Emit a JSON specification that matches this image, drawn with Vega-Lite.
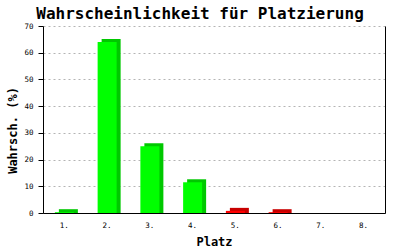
{
  "$schema": "https://vega.github.io/schema/vega-lite/v6.json",
  "width": 342,
  "height": 187,
  "autosize": "none",
  "padding": {"left": 43, "top": 26, "right": 15, "bottom": 37},
  "background": "white",
  "title": {"text": "Wahrscheinlichkeit für Platzierung", "font": "DejaVu Sans Mono", "fontSize": 16, "fontWeight": "bold", "color": "black", "anchor": "middle", "frame": "group", "dx": -14, "offset": 8, "dy": 8},
  "config": {"view": {"stroke": null}},
  "data": {"values": [
    {"platz": "1.", "wert": 0.3, "gruppe": "a"},
    {"platz": "2.", "wert": 64, "gruppe": "a"},
    {"platz": "3.", "wert": 25, "gruppe": "a"},
    {"platz": "4.", "wert": 11.5, "gruppe": "a"},
    {"platz": "5.", "wert": 0.8, "gruppe": "b"},
    {"platz": "6.", "wert": 0.3, "gruppe": "b"},
    {"platz": "7.", "wert": 0, "gruppe": "b"},
    {"platz": "8.", "wert": 0, "gruppe": "b"}
  ]},
  "encoding": {
    "x": {"field": "platz", "type": "ordinal", "sort": null,
      "scale": {"paddingInner": 0, "paddingOuter": 0},
      "axis": {"labelAngle": 0, "ticks": false, "domainColor": "black", "labelPadding": 8, "labelFont": "DejaVu Sans Mono", "labelFontSize": 7.5, "labelColor": "black", "title": "Platz", "titleFont": "DejaVu Sans Mono", "titleFontSize": 12, "titleFontWeight": "bold", "titleColor": "black", "titlePadding": 8}}
  },
  "layer": [
    {
      "transform": [{"filter": "datum.wert > 0"}],
      "mark": {"type": "bar", "width": 19, "xOffset": 4, "x2Offset": 4, "yOffset": -3, "y2Offset": 0},
      "encoding": {
        "y": {"field": "wert", "type": "quantitative", "scale": {"domain": [0, 70]},
          "axis": {"values": [0, 10, 20, 30, 40, 50, 60, 70], "grid": true, "gridColor": "#b4b4b4", "gridDash": [2, 3], "domainColor": "black", "tickColor": "black", "tickSize": 5, "labelFont": "DejaVu Sans Mono", "labelFontSize": 7.5, "labelColor": "black", "labelPadding": 5, "title": "Wahrsch. (%)", "titleFont": "DejaVu Sans Mono", "titleFontSize": 12, "titleFontWeight": "bold", "titleColor": "black", "titleY": 104}},
        "y2": {"datum": 0},
        "color": {"field": "gruppe", "type": "nominal", "scale": {"domain": ["a", "b"], "range": ["#00c800", "#c80000"]}, "legend": null}
      }
    },
    {
      "mark": {"type": "bar", "width": 19},
      "encoding": {
        "y": {"field": "wert", "type": "quantitative", "scale": {"domain": [0, 70]},
          "axis": {"orient": "right", "labels": false, "ticks": false, "grid": false, "domainColor": "black", "title": null}},
        "color": {"field": "gruppe", "type": "nominal", "scale": {"domain": ["a", "b"], "range": ["#00ff00", "#ff0000"]}, "legend": null}
      }
    }
  ],
  "resolve": {"scale": {"color": "independent"}, "axis": {"y": "independent"}}
}
